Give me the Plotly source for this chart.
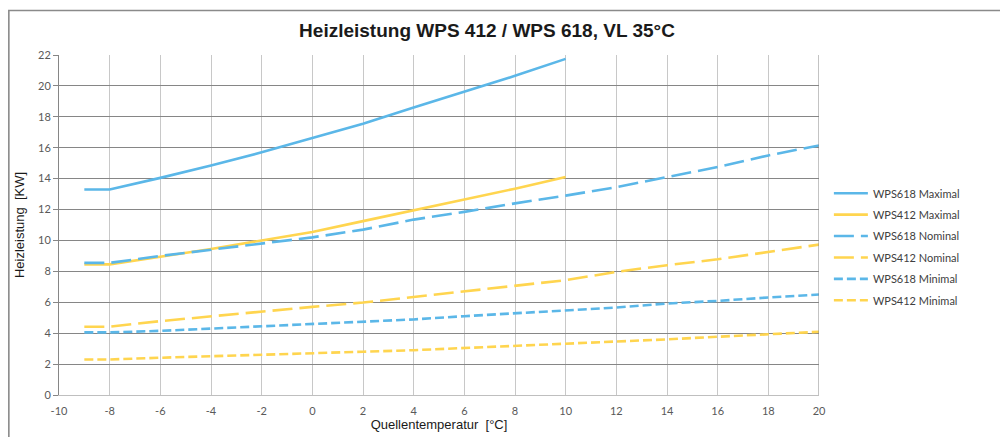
import plotly.graph_objects as go

# ---- data ----
x_max = [-9, -8, -6, -4, -2, 0, 2, 4, 6, 8, 10]
x_full = [-9, -8, -6, -4, -2, 0, 2, 4, 6, 8, 10, 12, 14, 16, 18, 20]

wps618_maximal = [13.3, 13.3, 14.05, 14.85, 15.7, 16.65, 17.55, 18.6, 19.6, 20.65, 21.75]
wps412_maximal = [8.45, 8.45, 8.95, 9.45, 10.0, 10.55, 11.25, 11.95, 12.65, 13.35, 14.1]
wps618_nominal = [8.55, 8.55, 9.0, 9.4, 9.8, 10.2, 10.7, 11.35, 11.85, 12.4, 12.9,
                  13.45, 14.1, 14.75, 15.5, 16.15]
wps412_nominal = [4.42, 4.42, 4.78, 5.1, 5.4, 5.7, 5.98, 6.35, 6.72, 7.1, 7.43,
                  7.97, 8.4, 8.78, 9.26, 9.73]
wps618_minimal = [4.05, 4.05, 4.15, 4.3, 4.46, 4.63, 4.74, 4.89, 5.1, 5.28, 5.47,
                  5.66, 5.92, 6.09, 6.31, 6.5]
wps412_minimal = [2.3, 2.3, 2.41, 2.5, 2.58, 2.69, 2.8, 2.9, 3.04, 3.17, 3.31,
                  3.44, 3.6, 3.77, 3.92, 4.09]

series_names = ["WPS618 Maximal", "WPS412 Maximal", "WPS618 Nominal",
                "WPS412 Nominal", "WPS618 Minimal", "WPS412 Minimal"]

x_ticks = list(range(-10, 21, 2))
y_ticks = list(range(0, 23, 2))

title_text = "Heizleistung WPS 412 / WPS 618, VL 35°C"
x_title = "Quellentemperatur\u00a0\u00a0[°C]"
y_title = "Heizleistung\u00a0\u00a0[KW]"

# ---- styles ----
BLUE = "#5BB7E8"
YELLOW = "#FFD54F"
styles = [
    (BLUE, "solid"),
    (YELLOW, "solid"),
    (BLUE, "20px,7px"),
    (YELLOW, "20px,7px"),
    (BLUE, "9px,4px"),
    (YELLOW, "9px,4px"),
]
xs = [x_max, x_max, x_full, x_full, x_full, x_full]
ys = [wps618_maximal, wps412_maximal, wps618_nominal,
      wps412_nominal, wps618_minimal, wps412_minimal]

fig = go.Figure()
for i, (name, x, y, (col, dash)) in enumerate(zip(series_names, xs, ys, styles)):
    fig.add_trace(go.Scatter(
        x=x, y=y, mode="lines", name=name, legendgroup=f"g{i}",
        line=dict(color=col, width=2.6, dash=dash),
    ))

TICKFONT = dict(family="Lato, 'Open Sans', sans-serif", size=11, color="#595959")

# the page adds an 8px body margin, so the figure is 1000x429 and offsets are shifted
fig.update_layout(
    width=1000, height=429,
    margin=dict(l=51, r=189, t=46.5, b=42, pad=0, autoexpand=False),
    paper_bgcolor="white", plot_bgcolor="white",
    title=dict(text=title_text, x=0.479, xanchor="center", y=0.9487, yanchor="middle",
               xref="container", yref="container",
               font=dict(family="Liberation Sans, Arial, sans-serif", size=19,
                         color="#1a1a1a", weight="bold")),
    showlegend=True,
    legend=dict(x=1.013, y=0.636, xanchor="left", yanchor="top",
                traceorder="grouped", tracegroupgap=2.4,
                font=dict(family="Lato, 'Open Sans', sans-serif", size=11, color="#404040"),
                bgcolor="rgba(0,0,0,0)", itemwidth=34),
    xaxis=dict(range=[-10, 20], tickvals=x_ticks, ticktext=[str(v) for v in x_ticks],
               showgrid=True, gridcolor="#c8c8c8", gridwidth=1, automargin=False,
               zeroline=False, showline=True, linecolor="#bfbfbf", linewidth=1,
               ticks="", tickfont=TICKFONT, ticklabelstandoff=6,
               title=dict(text=x_title, standoff=3,
                          font=dict(family="Liberation Sans, Arial, sans-serif",
                                    size=13, color="#1a1a1a"))),
    yaxis=dict(range=[0, 22], tickvals=y_ticks, ticktext=[str(v) for v in y_ticks],
               showgrid=True, gridcolor="#868686", gridwidth=1, automargin=False,
               zeroline=False, showline=True, linecolor="#868686", linewidth=1,
               ticks="outside", ticklen=5, tickcolor="#868686", tickfont=TICKFONT,
               title=dict(text=y_title, standoff=10,
                          font=dict(family="Liberation Sans, Arial, sans-serif",
                                    size=13, color="#1a1a1a"))),
    shapes=[
        # outer chart frame
        dict(type="rect", xref="paper", yref="paper",
             x0=-0.066, x1=1.3, y0=-0.2, y1=1.1307,
             line=dict(color="#8a8a8a", width=1.6), fillcolor="rgba(0,0,0,0)",
             layer="below"),
        # right border of plot area
        dict(type="line", xref="x", yref="paper", x0=20, x1=20, y0=0, y1=1,
             line=dict(color="#868686", width=1)),
    ],
)

fig.write_html("out.html")
